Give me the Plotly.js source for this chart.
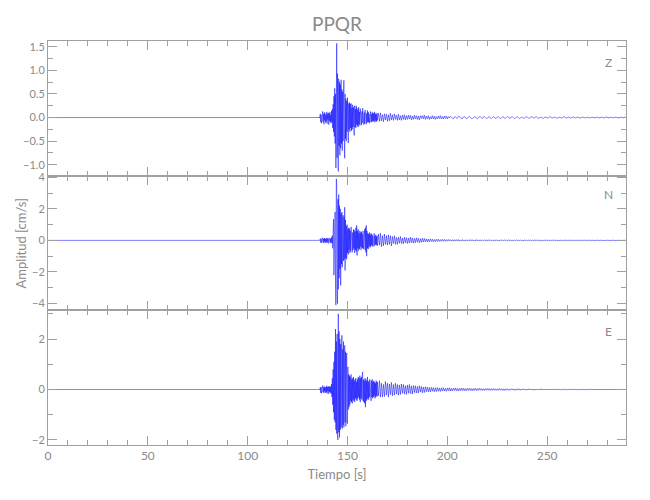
<!DOCTYPE html>
<html>
<head>
<meta charset="utf-8">
<script src="https://cdn.plot.ly/plotly-3.0.1.min.js"></script>
<style>html,body{margin:0;padding:0;background:#fff;}#chart{width:650px;height:500px;}</style>
</head>
<body>
<div id="chart"></div>
<script>
// Station and components
const station = "PPQR";
const components = ["Z", "N", "E"];
const xLabel = "Tiempo [s]";
const yLabel = "Amplitud [cm/s]";

// Pre-event (quiet) part: times and values
const preTimes = [0, 135];
const preValues = [0, 0];

// Main event segment: starts at 135.0 s, sample step 0.2 s
const eventStart = 135.0;
const eventStep = 0.2;
// Coda segment: starts at 165.0 s, sample step 0.5 s
const codaStart = 165.0;
const codaStep = 0.5;

// ---- Z component (values in cm/s) ----
const zEvent = [
0,0.01,-0.01,0,0.01,-0.01,0.02,0.08,-0.1,0.06,
-0.12,0.1,-0.05,0.13,-0.09,0.07,-0.14,0.11,-0.06,0.09,
-0.11,0.05,-0.08,0.12,-0.13,0.08,-0.04,0.1,-0.15,0.09,
-0.07,0.12,-0.1,0.06,-0.12,0.14,-0.09,0.18,-0.22,0.28,
-0.3,0.45,-0.4,0.62,-0.55,0.5,-1.07,0.6,1.57,-0.85,
0.93,-0.7,-1.14,0.82,-0.6,0.75,-0.8,0.7,-0.65,0.8,
-0.55,0.6,-0.7,0.55,-0.5,0.45,0.79,-0.4,-0.86,0.5,
-0.45,0.4,-0.5,0.35,-0.3,0.42,-0.35,-0.54,0.3,-0.25,
0.32,-0.3,0.28,-0.22,0.3,-0.28,0.2,-0.25,0.27,-0.2,
0.22,-0.3,-0.38,0.25,-0.2,0.18,-0.22,0.25,-0.15,0.2,
-0.18,0.16,-0.2,0.22,-0.14,0.12,-0.17,0.19,-0.12,0.15,
-0.16,0.13,-0.12,0.2,-0.1,0.14,-0.15,0.11,-0.13,0.16,
-0.1,0.12,-0.14,0.09,-0.11,0.15,-0.09,0.12,-0.1,0.08,
-0.12,0.1,-0.08,0.13,-0.1,0.07,-0.09,0.11,-0.08,0.1,
-0.07,0.09,-0.1,0.12,-0.06,0.08,-0.09,0.07,-0.08,0.1,-0.06
];
const zCoda = [
-0.06,0.09,-0.08,0.1,-0.07,0.06,-0.09,0.08,-0.05,0.07,
-0.08,0.06,-0.07,0.09,-0.05,0.06,-0.06,0.08,-0.04,0.05,
-0.06,0.07,-0.05,0.04,-0.06,0.05,-0.04,0.06,-0.05,0.04,
-0.04,0.05,-0.03,0.05,-0.05,0.03,-0.04,0.05,-0.03,0.04,
-0.04,0.03,-0.05,0.04,-0.02,0.04,-0.03,0.05,-0.04,0.03,
-0.03,0.04,-0.04,0.02,-0.03,0.04,-0.03,0.03,-0.04,0.02,
-0.03,0.03,-0.02,0.04,-0.03,0.02,-0.03,0.03,-0.02,0.03,
-0.03,0.02,-0.01,0.03,0.01,-0.02,-0.03,0.01,0.02,-0.01,
-0.02,0.02,0.03,0,-0.02,-0.03,0.01,0.02,0.01,-0.02,
-0.02,0.01,0.03,0.01,-0.02,-0.02,0,0.02,0.02,-0.01,
-0.03,-0.01,0.02,0.02,-0.01,-0.02,0.01,0.02,0,-0.02,
-0.01,0.01,0.02,-0.01,-0.02,0,0.02,0.01,-0.02,-0.01,
0.01,0.02,0,-0.02,-0.01,0.01,0.02,-0.01,-0.02,0,
0.02,0.01,-0.01,-0.02,0.01,0.02,0,-0.02,-0.01,0.01,
0.02,0,-0.02,-0.01,0.01,0.01,-0.01,-0.02,0,0.02,
0.01,-0.01,-0.02,0,0.02,0.01,-0.01,-0.01,0.01,0.02,
0,-0.02,-0.01,0.01,0.01,-0.01,-0.02,0,0.01,0.01,
-0.01,-0.01,0.01,0.02,0,-0.01,-0.01,0.01,0.01,-0.01,
-0.02,0,0.01,0.01,-0.01,-0.01,0.01,0.02,0,-0.01,
-0.01,0.01,0.01,-0.01,-0.01,0,0.01,0.01,-0.01,-0.01,
0.01,0.01,0,-0.01,-0.01,0.01,0.01,0,-0.01,0,
0.01,0.01,-0.01,-0.01,0,0.01,0,-0.01,-0.01,0.01,
0.01,0,-0.01,0,0.01,0.01,-0.01,-0.01,0,0.01,
0.01,-0.01,-0.01,0,0.01,0,-0.01,0,0.01,0.01,
0,-0.01,-0.01,0.01,0.01,0,-0.01,0,0.01,0,0
];

// ---- N component ----
const nEvent = [
0,0.01,-0.01,0,0.02,-0.02,0.03,0.1,-0.14,0.12,
-0.16,0.13,-0.1,0.17,-0.12,0.09,-0.18,0.15,-0.08,0.12,
-0.14,0.1,-0.12,0.16,-0.17,0.11,-0.06,0.13,-0.19,0.12,
-0.1,0.16,-0.14,0.1,-0.15,0.2,-0.18,0.3,-0.5,0.7,
1.35,-2.2,1.2,-1.6,1.8,-2.5,-4.1,3.9,3.7,-3.2,
-4.0,2.6,-3.1,2.9,-2.4,2.2,-1.8,2.0,-2.85,1.7,
-1.5,1.8,-1.7,1.4,1.6,-1.3,1.5,-1.2,2.1,-1.9,
1.3,-1.1,0.9,-1.2,1.0,-0.8,0.7,-0.9,0.8,-0.6,
0.75,-0.8,0.6,-0.7,0.85,-0.55,0.6,-0.75,0.5,-0.6,
0.7,-0.5,0.65,-0.8,0.55,-0.6,0.8,-0.7,0.95,-0.95,
0.6,-0.5,0.7,-0.65,0.45,-0.55,0.6,-0.4,0.5,-0.6,
0.55,-0.45,0.4,-0.5,0.6,-0.55,0.45,-0.4,0.7,-0.6,
0.8,-0.75,0.95,-1.0,0.6,-0.5,0.45,-0.55,0.4,-0.35,
0.5,-0.45,0.35,-0.4,0.45,-0.3,0.4,-0.35,0.3,-0.4,
0.35,-0.3,0.45,-0.35,0.3,-0.25,0.35,-0.3,0.25,-0.3,0.28
];
const nCoda = [
-0.35,0.4,-0.3,0.45,-0.4,0.3,-0.35,0.4,-0.25,0.3,
-0.3,0.35,-0.25,0.3,-0.35,0.25,-0.2,0.3,-0.25,0.2,
-0.25,0.2,-0.18,0.25,-0.2,0.15,-0.22,0.2,-0.15,0.18,
-0.2,0.15,-0.17,0.2,-0.14,0.16,-0.18,0.12,-0.15,0.17,
-0.12,0.14,-0.15,0.1,-0.12,0.14,-0.1,0.12,-0.09,0.1,
-0.1,0.08,-0.09,0.1,-0.07,0.08,-0.09,0.06,-0.08,0.07,
-0.06,0.08,-0.07,0.05,-0.06,0.07,-0.05,0.06,-0.06,0.05,
-0.05,0.06,-0.04,0.05,-0.05,0.04,-0.05,0.05,-0.04,0.05,
-0.04,0.05,-0.05,0.03,-0.04,0.05,-0.04,0.03,-0.05,0.04,
-0.03,0.04,-0.04,0.05,-0.03,0.04,-0.04,0.03,-0.04,0.05,
-0.04,0.03,-0.03,0.04,-0.04,0.03,-0.03,0.04,-0.03,0.04,
-0.04,0.03,-0.03,0.04,-0.03,0.03,-0.04,0.03,-0.03,0.04,
-0.03,0.03,-0.04,0.03,-0.03,0.04,-0.03,0.03,-0.03,0.04,
-0.03,0.03,-0.03,0.04,-0.03,0.03,-0.04,0.03,-0.03,0.03,
-0.03,0.04,-0.03,0.03,-0.03,0.03,-0.04,0.03,-0.03,0.03,
-0.03,0.03,-0.03,0.04,-0.03,0.03,-0.03,0.03,-0.03,0.04,
-0.03,0.03,-0.03,0.03,-0.04,0.03,-0.03,0.03,-0.03,0.03,
-0.03,0.04,-0.03,0.03,-0.03,0.03,-0.03,0.04,-0.03,0.03,
-0.03,0.03,-0.04,0.03,-0.03,0.03,-0.03,0.03,-0.03,0.04,
-0.03,0.03,-0.03,0.03,-0.03,0.04,-0.03,0.03,-0.03,0.03,
-0.03,0.03,-0.03,0.04,-0.03,0.03,-0.03,0.03,-0.02,0.03,
-0.03,0.03,-0.02,0.03,-0.03,0.03,-0.03,0.02,-0.03,0.03,
-0.02,0.03,-0.03,0.03,-0.02,0.03,-0.03,0.02,-0.03,0.03,
-0.02,0.03,-0.03,0.02,-0.03,0.03,-0.02,0.03,-0.03,0.02,
-0.03,0.03,-0.02,0.03,-0.03,0.02,-0.03,0.03,-0.02,0.03,0
];

// ---- E component ----
const eEvent = [
0,0.01,-0.01,0.02,-0.01,0.01,-0.02,0.09,-0.13,0.1,
-0.15,0.12,-0.09,0.16,-0.11,0.08,-0.14,0.12,-0.07,0.1,
-0.13,0.09,-0.11,0.15,-0.16,0.1,-0.06,0.12,-0.17,0.11,
-0.09,0.14,-0.13,0.1,-0.16,0.22,-0.3,0.45,-0.6,0.8,
-0.9,1.1,-1.2,1.5,-1.3,2.4,-1.6,1.9,-1.75,2.2,
-1.8,-2.0,3.0,-1.7,2.3,-1.9,2.0,-1.6,1.8,-1.5,
1.7,2.15,-1.55,1.6,-1.4,1.9,-1.5,1.4,1.75,-1.3,
1.5,-1.45,1.3,1.45,-1.2,-1.35,0.9,-0.8,0.6,-0.7,
0.55,-0.6,0.5,-0.45,0.6,-0.5,0.4,-0.55,0.45,-0.4,
0.5,-0.45,0.35,-0.5,0.4,-0.35,0.45,-0.4,0.3,-0.45,
0.4,-0.35,0.5,-0.3,0.45,-0.4,0.55,-0.5,0.45,-0.35,
0.5,-0.4,0.6,0.7,-0.45,0.4,-0.5,0.35,-0.55,0.45,
-0.7,0.4,-0.45,0.35,-0.4,0.5,-0.35,0.3,-0.4,0.35,
-0.3,0.4,-0.35,0.3,-0.45,0.35,-0.3,0.4,-0.35,0.3,
-0.3,0.35,-0.25,0.3,-0.35,0.25,-0.3,0.35,-0.25,0.3,-0.28
];
const eCoda = [
0.3,-0.25,0.35,-0.3,0.25,-0.3,0.2,-0.28,0.32,-0.22,
0.25,-0.3,0.22,-0.2,0.28,-0.25,0.2,-0.22,0.25,-0.18,
0.2,-0.22,0.18,-0.2,0.22,-0.15,0.2,-0.18,0.15,-0.2,
0.18,-0.15,0.2,-0.16,0.14,-0.18,0.16,-0.12,0.15,-0.14,
0.12,-0.14,0.15,-0.1,0.12,-0.13,0.1,-0.12,0.11,-0.09,
0.1,-0.09,0.08,-0.1,0.09,-0.07,0.08,-0.09,0.07,-0.08,
0.08,-0.07,0.06,-0.08,0.07,-0.06,0.07,-0.06,0.05,-0.07,
0.06,-0.05,0.07,-0.06,0.05,-0.06,0.05,-0.04,0.06,-0.05,
0.05,-0.06,0.04,-0.05,0.06,-0.04,0.05,-0.05,0.04,-0.05,
0.05,-0.04,0.05,-0.04,0.04,-0.05,0.04,-0.04,0.05,-0.04,
0.04,-0.04,0.05,-0.03,0.04,-0.04,0.03,-0.04,0.04,-0.03,
0.04,-0.03,0.04,-0.04,0.03,-0.03,0.04,-0.03,0.03,-0.04,
0.03,-0.03,0.04,-0.03,0.03,-0.03,0.03,-0.04,0.03,-0.03,
0.03,-0.03,0.02,-0.03,0.03,-0.02,0.03,-0.03,0.02,-0.03,
0.03,-0.02,0.03,-0.03,0.02,-0.02,0.03,-0.02,0.02,-0.03,
0.02,-0.02,0.03,-0.02,0.02,-0.02,0.02,-0.03,0.02,-0.02,
0.02,-0.02,0.02,-0.02,0.03,-0.02,0.02,-0.02,0.02,-0.02,
0.02,-0.02,0.02,-0.02,0.02,-0.02,0.02,-0.02,0.02,-0.02,
0.02,-0.01,0.02,-0.02,0.01,-0.02,0.02,-0.01,0.02,-0.02,
0.01,-0.02,0.02,-0.01,0.02,-0.02,0.01,-0.01,0.02,-0.01,
0.01,-0.02,0.01,-0.01,0.02,-0.01,0.01,-0.01,0.01,-0.02,
0.01,-0.01,0.01,-0.01,0.02,-0.01,0.01,-0.01,0.01,-0.01,
0.01,-0.01,0.01,-0.01,0.01,-0.01,0.01,-0.01,0.01,-0.01,
0.01,-0.01,0.01,-0.01,0.01,-0.01,0.01,-0.01,0.01,-0.01,
0.01,-0.01,0.01,-0.01,0.01,-0.01,0.01,-0.01,0.01,-0.01,0
];

// Axis ranges and ticks per panel
const xRange = [0, 289.5];
const yRanges = [[-1.23, 1.62], [-4.43, 4.1], [-2.2, 3.14]];
const yDticks = [0.5, 2, 2];
const yMinor = [0.25, 1, 1];
const yFormats = [".1f", "d", "d"];

const eventSeries = [zEvent, nEvent, eEvent];
const codaSeries = [zCoda, nCoda, eCoda];

const FONT = "'Liberation Sans Narrow', 'Lato', sans-serif";
const AXC = "#a0a0a0";
const TXC = "#8a8a8a";
const BLUE = "#0000ff";

const data = [];
components.forEach((c, k) => {
  const xa = k === 0 ? "x" : "x" + (k + 1);
  const ya = k === 0 ? "y" : "y" + (k + 1);
  const line = {color: BLUE, width: 0.5};
  data.push({type: "scatter", mode: "lines", x: preTimes, y: preValues, xaxis: xa, yaxis: ya, line: line, hoverinfo: "skip"});
  data.push({type: "scatter", mode: "lines", x0: eventStart, dx: eventStep, y: eventSeries[k], xaxis: xa, yaxis: ya, line: line, hoverinfo: "skip"});
  data.push({type: "scatter", mode: "lines", x0: codaStart, dx: codaStep, y: codaSeries[k], xaxis: xa, yaxis: ya, line: line, hoverinfo: "skip"});
});

function xAxis(k) {
  const ax = {
    domain: [0, 1], range: xRange, anchor: k === 0 ? "y" : "y" + (k + 1),
    showline: true, linecolor: AXC, linewidth: 1, mirror: "allticks",
    ticks: "inside", ticklen: 9, tickcolor: AXC, tickwidth: 1,
    dtick: 50, tick0: 0, showgrid: false, zeroline: false,
    minor: {dtick: 10, ticklen: 5, ticks: "inside", tickcolor: AXC, showgrid: false},
    showticklabels: k === 2,
    tickfont: {family: FONT, size: 12, color: TXC}
  };
  if (k === 2) ax.title = {text: xLabel, font: {family: FONT, size: 13, color: TXC}, standoff: 7};
  return ax;
}
function yAxis(k) {
  return {
    domain: [(2 - k) / 3, (3 - k) / 3], range: yRanges[k], anchor: k === 0 ? "x" : "x" + (k + 1),
    showline: true, linecolor: AXC, linewidth: 1, mirror: "allticks",
    ticks: "inside", ticklen: 9, tickcolor: AXC, tickwidth: 1,
    dtick: yDticks[k], tick0: 0, tickformat: yFormats[k], showgrid: false, zeroline: false,
    minor: {dtick: yMinor[k], ticklen: 5, ticks: "inside", tickcolor: AXC, showgrid: false},
    tickfont: {family: FONT, size: 11, color: TXC}
  };
}

const annotations = components.map((c, k) => ({
  text: c, xref: "paper", yref: "paper", x: 0.97, y: [0.948, 0.619, 0.28][k],
  showarrow: false, xanchor: "center", yanchor: "middle",
  font: {family: FONT, size: 12, color: TXC}
}));
// y-axis label placed beside the middle panel
annotations.push({
  text: yLabel, xref: "paper", yref: "paper", x: -0.046, y: 0.5,
  textangle: -90, showarrow: false, xanchor: "center", yanchor: "middle",
  font: {family: FONT, size: 13, color: TXC}
});

const layout = {
  width: 650, height: 500,
  margin: {l: 48, r: 24, t: 41, b: 55},
  paper_bgcolor: "#ffffff", plot_bgcolor: "#ffffff",
  showlegend: false, hovermode: false,
  title: {text: station, font: {family: FONT, size: 19, color: TXC}, x: 0.5, xref: "paper", y: 0.952, yref: "container", yanchor: "middle"},
  xaxis: xAxis(0), xaxis2: xAxis(1), xaxis3: xAxis(2),
  yaxis: yAxis(0), yaxis2: yAxis(1), yaxis3: yAxis(2),
  annotations: annotations
};

Plotly.newPlot("chart", data, layout, {displayModeBar: false, staticPlot: true});
</script>
</body>
</html>
